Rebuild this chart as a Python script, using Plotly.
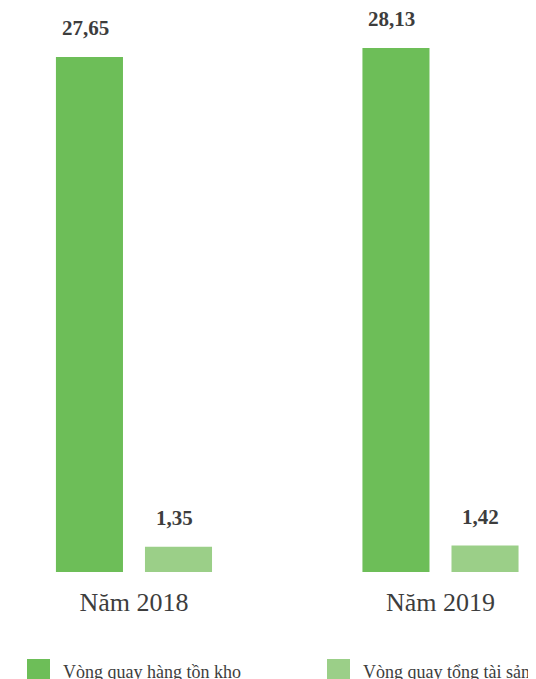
import plotly.graph_objects as go

categories = ["Năm 2018", "Năm 2019"]
series_names = ["Vòng quay hàng tồn kho", "Vòng quay tổng tài sản"]
inventory_turnover = [27.65, 28.13]
asset_turnover = [1.35, 1.42]
colors = ["#6dbe58", "#9bcf88"]

# page body adds an 8px margin; figure sized to fill the 536x679 window
W, H = 528, 671
top, bottom = 12, 107
plot_h = H - top - bottom

def fmt(v):
    return f"{v:.2f}".replace(".", ",")

fig = go.Figure()
for name, vals, col in zip(series_names, [inventory_turnover, asset_turnover], colors):
    fig.add_trace(go.Bar(x=categories, y=vals, name=name, marker_color=col,
                         marker_line_width=0, showlegend=False, hoverinfo="skip"))

# value labels above bars
offsets = [-44.5, 44.5]
for vals, dx in zip([inventory_turnover, asset_turnover], offsets):
    for c, v in zip(categories, vals):
        fig.add_annotation(x=c, y=v, text=f"<b>{fmt(v)}</b>", showarrow=False,
                           xshift=dx - 4, yanchor="bottom", yshift=15,
                           font=dict(family="Liberation Serif", size=21, color="#3d3d3d"))

# custom legend
def px_x(x):
    return (x - 8) / W

def px_y(y):
    return (H - bottom - (y - 8)) / plot_h

legend_x = [27, 327]
for name, col, lx in zip(series_names, colors, legend_x):
    fig.add_shape(type="rect", xref="paper", yref="paper",
                  x0=px_x(lx), x1=px_x(lx + 23), y0=px_y(659), y1=px_y(682),
                  fillcolor=col, line_width=0)
    fig.add_annotation(xref="paper", yref="paper", x=px_x(lx + 34), y=px_y(672),
                       text=name, showarrow=False, xanchor="left", yanchor="middle",
                       font=dict(family="Liberation Serif", size=18, color="#3d3d3d"))

fig.update_layout(
    width=W, height=H,
    margin=dict(l=0, r=0, t=top, b=bottom),
    barmode="group", bargap=0.419, bargroupgap=0.247,
    plot_bgcolor="white", paper_bgcolor="white",
    xaxis=dict(type="category", range=[-0.411, 1.3116], showgrid=False, zeroline=False,
               showline=False, ticks="", ticklabelstandoff=12,
               tickfont=dict(family="Liberation Serif", size=26, color="#3d3d3d")),
    yaxis=dict(range=[0, 29.63], visible=False, showgrid=False, zeroline=False),
)

fig.write_html("out.html")
